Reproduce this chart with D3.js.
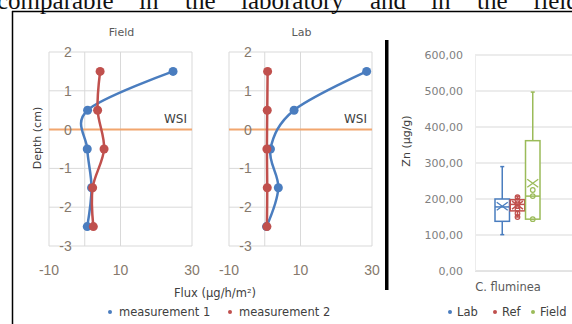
<!DOCTYPE html>
<html>
<head>
<meta charset="utf-8">
<script src="https://cdn.jsdelivr.net/npm/d3@7"></script>
<style>
  body { margin: 0; background: #fff; }
  svg { display: block; }
  text { font-family: "DejaVu Sans", sans-serif; }
</style>
</head>
<body>
<svg id="fig" width="572" height="324"></svg>
<script>
// DATA //
var depths = [1.5, 0.5, -0.5, -1.5, -2.5];
var fieldM1 = [24.7, 0.8, 0.7, 1.9, 0.7];
var fieldM2 = [4.3, 3.6, 5.4, 2.2, 2.4];
var labM1 = [28.5, 8.2, 1.6, 3.8, 0.5];
var labM2 = [0.8, 0.7, 0.6, 0.7, 0.6];
var fluxTicks = [-10, 10, 30];
var depthTicks = [2, 1, 0, -1, -2, -3];

var groups = ["Lab", "Ref", "Field"];
var boxMin = [101, 150, 144];
var boxQ1 = [138, 167, 144];
var boxMedian = [178, 185, 208];
var boxQ3 = [200, 198, 362];
var boxMax = [290, 208, 497];
var boxMean = [180, 183, 244];
var boxPoints = [[], [150, 160, 172, 180, 188, 196, 205], [144, 208, 225]];
var znTicks = [0, 100, 200, 300, 400, 500, 600];

var topWords = ["comparable", "in", "the", "laboratory", "and", "in", "the", "field"];

var blue = "#4a7dbf", red = "#c0504d", green = "#9bbb59";
var grid = "#d9d9d9";

var svg = d3.select("#fig");

// page text above the figure (justified line, cut at top)
var wordX = [-3, 139, 185, 241, 370, 431, 477, 533];
svg.selectAll("text.word")
  .data(topWords)
  .enter().append("text")
    .attr("class", "word")
    .attr("x", (d, i) => wordX[i])
    .attr("y", 9)
    .style("font-family", "'Liberation Serif', serif")
    .style("font-size", "25px")
    .attr("fill", "#111")
    .text(d => d);

// frame
svg.append("line").attr("x1", 12).attr("x2", 572).attr("y1", 11.5).attr("y2", 11.5)
  .attr("stroke", "#000").attr("stroke-width", 1.5);
svg.append("line").attr("x1", 12.5).attr("x2", 12.5).attr("y1", 11).attr("y2", 324)
  .attr("stroke", "#000").attr("stroke-width", 1.5);

// LINE PANELS //
var yDepth = d3.scaleLinear().domain([-3, 2]).range([246, 52]);

var panels = [
  { title: "Field", left: 49, right: 192, m1: fieldM1, m2: fieldM2 },
  { title: "Lab", left: 229, right: 372, m1: labM1, m2: labM2 }
];

panels.forEach(function(p) {
  var x = d3.scaleLinear().domain([-10, 30]).range([p.left, p.right]);
  var g = svg.append("g");

  g.append("text")
    .attr("x", (p.left + p.right) / 2 + 1)
    .attr("y", 36)
    .attr("text-anchor", "middle")
    .style("font-size", "11px")
    .attr("fill", "#595959")
    .text(p.title);

  // gridlines
  g.selectAll("line.hg")
    .data(depthTicks)
    .enter().append("line")
      .attr("x1", p.left).attr("x2", p.right)
      .attr("y1", d => yDepth(d)).attr("y2", d => yDepth(d))
      .attr("stroke", grid).attr("stroke-width", 1);
  g.selectAll("line.vg")
    .data(fluxTicks.concat([0]))
    .enter().append("line")
      .attr("x1", d => x(d)).attr("x2", d => x(d))
      .attr("y1", yDepth(2)).attr("y2", yDepth(-3))
      .attr("stroke", grid).attr("stroke-width", 1);

  // WSI line
  g.append("line")
    .attr("x1", p.left).attr("x2", p.right)
    .attr("y1", yDepth(0)).attr("y2", yDepth(0))
    .attr("stroke", "#f2a66e").attr("stroke-width", 2);
  g.append("text")
    .attr("x", p.right - 5).attr("y", yDepth(0) - 7)
    .attr("text-anchor", "end")
    .style("font-size", "12px")
    .attr("fill", "#404040")
    .text("WSI");

  // tick labels
  g.selectAll("text.yl")
    .data(depthTicks)
    .enter().append("text")
      .attr("x", x(0) - 13)
      .attr("y", d => yDepth(d) + 5)
      .attr("text-anchor", "end")
      .style("font-family", "'Liberation Sans', sans-serif")
      .style("font-size", "14px")
      .attr("fill", "#86796c")
      .text(d => d);
  g.selectAll("text.xl")
    .data(fluxTicks)
    .enter().append("text")
      .attr("x", d => x(d))
      .attr("y", 275)
      .attr("text-anchor", "middle")
      .style("font-family", "'Liberation Sans', sans-serif")
      .style("font-size", "14px")
      .attr("fill", "#86796c")
      .text(d => d);

  var line = d3.line()
    .x(d => x(d[0]))
    .y(d => yDepth(d[1]))
    .curve(d3.curveCatmullRom.alpha(0));

  [[p.m1, blue], [p.m2, red]].forEach(function(s) {
    var pts = s[0].map((v, i) => [v, depths[i]]);
    g.append("path")
      .attr("d", line(pts))
      .attr("fill", "none")
      .attr("stroke", s[1])
      .attr("stroke-width", 2.5);
    g.selectAll(null)
      .data(pts)
      .enter().append("circle")
        .attr("cx", d => x(d[0]))
        .attr("cy", d => yDepth(d[1]))
        .attr("r", 4.5)
        .attr("fill", s[1]);
  });
});

svg.append("text")
  .attr("transform", "translate(41,138) rotate(-90)")
  .attr("text-anchor", "middle")
  .style("font-size", "11px")
  .attr("fill", "#404040")
  .text("Depth (cm)");

svg.append("text")
  .attr("x", 215).attr("y", 297)
  .attr("text-anchor", "middle")
  .style("font-size", "11.5px")
  .attr("fill", "#404040")
  .text("Flux (µg/h/m²)");

// legend (line panels)
var leg1 = [["measurement 1", blue, 110], ["measurement 2", red, 230]];
leg1.forEach(function(l) {
  svg.append("circle").attr("cx", l[2]).attr("cy", 312).attr("r", 2).attr("fill", l[1]);
  svg.append("text").attr("x", l[2] + 9).attr("y", 316)
    .style("font-size", "11.5px").attr("fill", "#404040").text(l[0]);
});

// separator
svg.append("rect").attr("x", 385).attr("y", 40).attr("width", 3.5).attr("height", 250).attr("fill", "#000");

// BOX PLOT //
var yZn = d3.scaleLinear().domain([0, 600]).range([271, 55]);
var xBox = d3.scaleBand().domain(groups).range([495, 540]).paddingInner(0.05);
var boxColors = [blue, red, green];
var bg = svg.append("g");

bg.selectAll("line.zg")
  .data(znTicks)
  .enter().append("line")
    .attr("x1", 475).attr("x2", 572)
    .attr("y1", d => yZn(d)).attr("y2", d => yZn(d))
    .attr("stroke", d => d === 0 ? "#c8c8c8" : grid).attr("stroke-width", 1);
bg.append("line").attr("x1", 475.5).attr("x2", 475.5).attr("y1", yZn(600)).attr("y2", yZn(0))
  .attr("stroke", "#ececec");

bg.selectAll("text.zl")
  .data(znTicks)
  .enter().append("text")
    .attr("x", 463)
    .attr("y", d => yZn(d) + 4)
    .attr("text-anchor", "end")
    .style("font-size", "11px")
    .attr("fill", "#808080")
    .text(d => d3.format(".2f")(d).replace(".", ","));

groups.forEach(function(gname, i) {
  var c = boxColors[i];
  var x0 = xBox(gname), w = xBox.bandwidth(), cx = x0 + w / 2;
  var gg = bg.append("g").attr("stroke", c).attr("fill", "none").attr("stroke-width", 1.5);
  // whiskers
  gg.append("line").attr("x1", cx).attr("x2", cx).attr("y1", yZn(boxMax[i])).attr("y2", yZn(boxQ3[i]));
  gg.append("line").attr("x1", cx).attr("x2", cx).attr("y1", yZn(boxQ1[i])).attr("y2", yZn(boxMin[i]));
  gg.append("line").attr("x1", cx - 2).attr("x2", cx + 2).attr("y1", yZn(boxMax[i])).attr("y2", yZn(boxMax[i]));
  gg.append("line").attr("x1", cx - 2).attr("x2", cx + 2).attr("y1", yZn(boxMin[i])).attr("y2", yZn(boxMin[i]));
  // box
  gg.append("rect")
    .attr("x", x0).attr("width", w)
    .attr("y", yZn(boxQ3[i]))
    .attr("height", Math.max(1, yZn(boxQ1[i]) - yZn(boxQ3[i])))
    .attr("fill", "#fff");
  gg.append("line").attr("x1", x0).attr("x2", x0 + w)
    .attr("y1", yZn(boxMedian[i])).attr("y2", yZn(boxMedian[i]));
  // inner points
  gg.selectAll("circle")
    .data(boxPoints[i])
    .enter().append("circle")
      .attr("cx", cx).attr("cy", d => yZn(d)).attr("r", 2.3)
      .attr("stroke-width", 1.2);
  // mean X
  var my = yZn(boxMean[i]), hx = w * 0.38, hy = 4;
  gg.append("path")
    .attr("d", `M${cx - hx},${my - hy}L${cx + hx},${my + hy}M${cx - hx},${my + hy}L${cx + hx},${my - hy}`)
    .attr("stroke-width", 1.3);
});

svg.append("text")
  .attr("transform", "translate(410,141) rotate(-90)")
  .attr("text-anchor", "middle")
  .style("font-size", "11px")
  .attr("fill", "#404040")
  .text("Zn (µg/g)");

svg.append("text")
  .attr("x", 508).attr("y", 291)
  .attr("text-anchor", "middle")
  .style("font-size", "11.5px")
  .attr("fill", "#595959")
  .text("C. fluminea");

var leg2 = [["Lab", blue, 450], ["Ref", red, 495], ["Field", green, 533]];
leg2.forEach(function(l) {
  svg.append("circle").attr("cx", l[2]).attr("cy", 312).attr("r", 2).attr("fill", l[1]);
  svg.append("text").attr("x", l[2] + 7).attr("y", 316)
    .style("font-size", "11.5px").attr("fill", "#404040").text(l[0]);
});
</script>
</body>
</html>
